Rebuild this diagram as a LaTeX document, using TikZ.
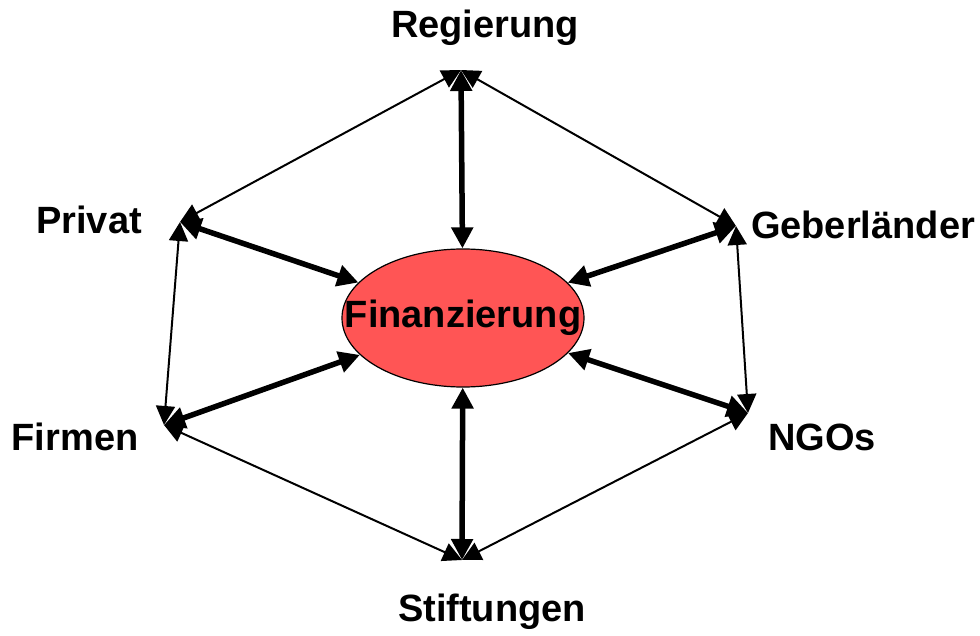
\documentclass[tikz,border=0pt]{standalone}
\usepackage{fontspec}
\setmainfont{Liberation Sans}
\usetikzlibrary{arrows.meta,shapes.geometric}

\definecolor{finred}{RGB}{255,85,85}

\begin{document}
\begin{tikzpicture}[x=1pt,y=-1pt,
    lbl/.style={font=\fontsize{38}{42}\selectfont\bfseries},
    thin/.style={line width=2pt, {Triangle[length=19pt,width=19pt]}-{Triangle[length=19pt,width=19pt]}},
    thick/.style={line width=5.5pt, {Triangle[length=21pt,width=21pt]}-{Triangle[length=21pt,width=21pt]}}]
    \useasboundingbox(0,0)rectangle(980,636);

    \node[ellipse, draw, line width=1.2pt, fill=finred, minimum width=242, minimum height=138, inner sep=0pt](fin)at(463,318){};
    \node[lbl](finl)at(fin){Finanzierung};

    \coordinate(reg)at(461,70);
    \coordinate(geb)at(736,226);
    \coordinate(ngo)at(748,413);
    \coordinate(sti)at(462,560);
    \coordinate(fir)at(164,425);
    \coordinate(pri)at(180,222);

    \node[lbl](regl)at(485,28){Regierung};
    \node[lbl](gebl)at(863,225){Geberländer};
    \node[lbl](ngol)at(822,437){NGOs};
    \node[lbl](stil)at(492,612){Stiftungen};
    \node[lbl](firl)at(75,437){Firmen};
    \node[lbl](pril)at(89,220){Privat};

    \draw[thin](reg)--(geb);
    \draw[thin](geb)--(ngo);
    \draw[thin](ngo)--(sti);
    \draw[thin](sti)--(fir);
    \draw[thin](fir)--(pri);
    \draw[thin](pri)--(reg);

    \draw[thick](reg)--(fin);
    \draw[thick](geb)--(fin);
    \draw[thick](ngo)--(fin);
    \draw[thick](sti)--(fin);
    \draw[thick](fir)--(fin);
    \draw[thick](pri)--(fin);
\end{tikzpicture}
\end{document}
